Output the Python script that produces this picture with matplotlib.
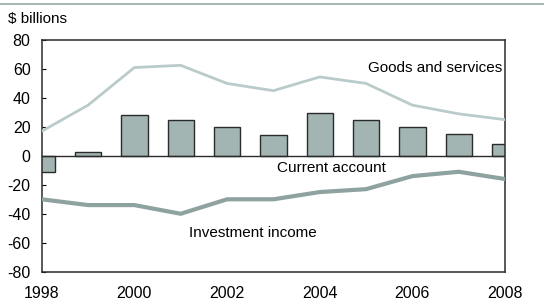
import matplotlib.pyplot as plt
from matplotlib.lines import Line2D

plt.rcParams["font.family"] = ["Liberation Sans", "DejaVu Sans"]
plt.rcParams["axes.unicode_minus"] = False

years = [1998, 1999, 2000, 2001, 2002, 2003, 2004, 2005, 2006, 2007, 2008]
current_account = [-11, 2.5, 28.5, 25, 20, 14.5, 29.5, 25, 20, 15, 8]
goods_services = [17, 35, 61, 62.5, 50, 45, 54.5, 50, 35, 29, 25]
investment_income = [-30, -34, -34, -40, -30, -30, -25, -23, -14, -11, -16]
yticks = [-80, -60, -40, -20, 0, 20, 40, 60, 80]
xticks = [1998, 2000, 2002, 2004, 2006, 2008]

fig = plt.figure(figsize=(5.44, 3.03), dpi=100)
ax = fig.add_axes([0.0767, 0.1033, 0.8517, 0.7647])

ax.bar(years, current_account, width=0.57, color="#a3b5b3",
       edgecolor="#2b2b2b", linewidth=1.0, zorder=2)
ax.plot(years, goods_services, color="#b9cbca", linewidth=2.0, zorder=3)
ax.plot(years, investment_income, color="#8ea2a0", linewidth=3.0, zorder=3)
ax.axhline(0, color="#2b2b2b", linewidth=1.0, zorder=4)

ax.set_xlim(1998, 2008)
ax.set_ylim(-80, 80)
ax.set_yticks(yticks)
ax.set_xticks(xticks)
ax.tick_params(axis="y", direction="in", length=3, labelsize=11.5, pad=8)
ax.tick_params(axis="x", length=0, labelsize=11.5, pad=10)
for s in ax.spines.values():
    s.set_color("#2b2b2b")
    s.set_linewidth(1.1)

ax.text(2006.5, 61, "Goods and services", fontsize=11, ha="center", va="center")
ax.text(2004.26, -8.5, "Current account", fontsize=11, ha="center", va="center")
ax.text(2002.56, -53, "Investment income", fontsize=11, ha="center", va="center")

fig.text(0.015, 0.936, "$ billions", fontsize=11, ha="left", va="center")
fig.add_artist(Line2D([0, 1], [0.987, 0.987], color="#97aba8",
                      linewidth=1.2, transform=fig.transFigure))

fig.savefig("out.png", dpi=100)
